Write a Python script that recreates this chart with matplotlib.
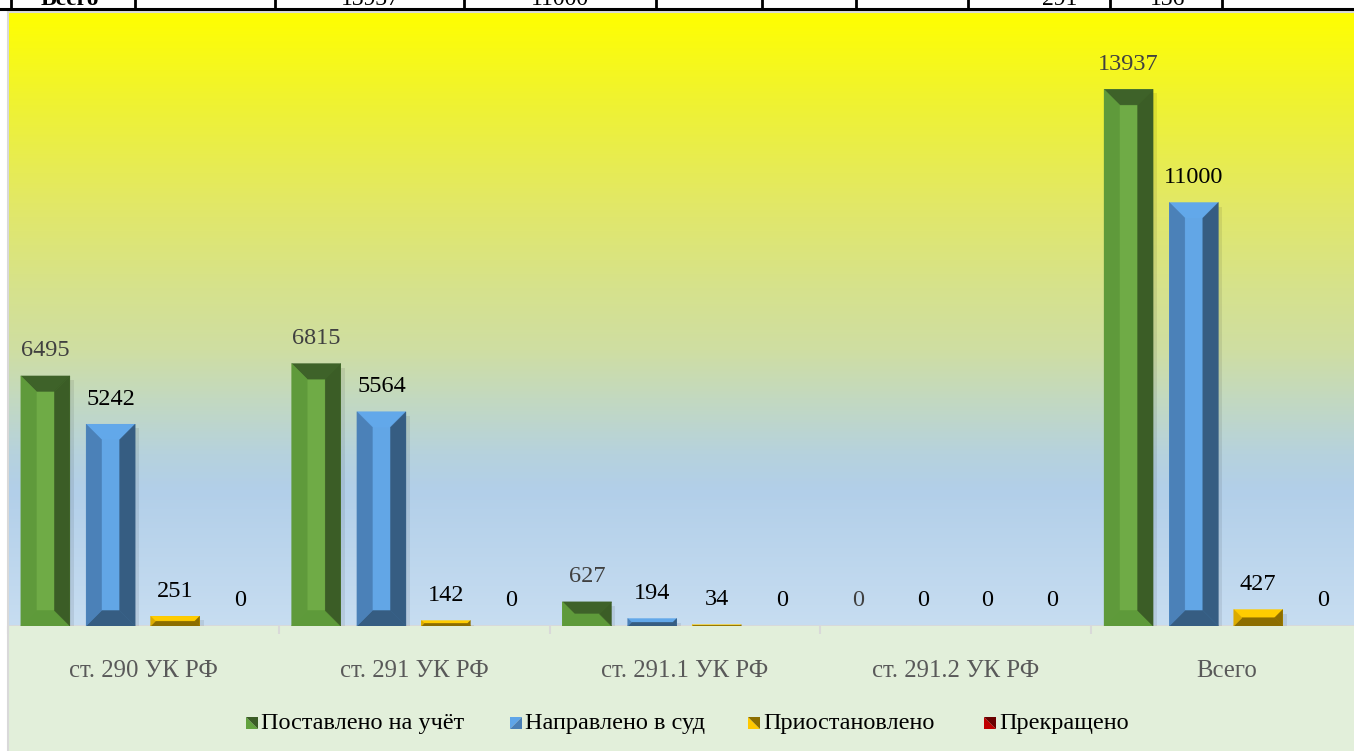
import numpy as np
import matplotlib
matplotlib.use('Agg')
import matplotlib.pyplot as plt
from matplotlib.patches import Polygon, Rectangle
from matplotlib.colors import LinearSegmentedColormap

# ---------------- data ----------------
categories = ['ст. 290 УК РФ', 'ст. 291 УК РФ', 'ст. 291.1 УК РФ', 'ст. 291.2 УК РФ', 'Всего']
series_names = ['Поставлено на учёт', 'Направлено в суд', 'Приостановлено', 'Прекращено']
registered = [6495, 6815, 627, 0, 13937]
to_court = [5242, 5564, 194, 0, 11000]
suspended = [251, 142, 34, 0, 427]
terminated = [0, 0, 0, 0, 0]
series_values = [registered, to_court, suspended, terminated]
y_max = 16000

# ---------------- styles ----------------
plt.rcParams['font.family'] = ['Liberation Serif', 'DejaVu Serif']
W, H = 1354, 751
fig = plt.figure(figsize=(W / 100, H / 100), dpi=100)
fig.patch.set_facecolor('white')

# faces: center, left, right, top, bottom
bevel_colors = [
    dict(center='#6fab46', left='#5f9a3b', right='#3b5d26', top='#3e6229', bottom='#5e9a3a',
         label='#404040', leg=('#62a23e', '#3b5d26')),
    dict(center='#62a6e6', left='#4b81b8', right='#365d82', top='#62a8ea', bottom='#365d82',
         label='#000000', leg=('#4a7fb5', '#5fa5e8')),
    dict(center='#f5c400', left='#dcab00', right='#8c6d00', top='#ffcc00', bottom='#8c6d00',
         label='#000000', leg=('#ffc800', '#8c6e00')),
    dict(center='#c00000', left='#a80000', right='#700000', top='#d01010', bottom='#700000',
         label='#000000', leg=('#c00000', '#6a0000')),
]

# ---------------- background (pixel axes) ----------------
bg = fig.add_axes([0, 0, 1, 1])
bg.set_xlim(0, W)
bg.set_ylim(H, 0)
bg.axis('off')

grad = LinearSegmentedColormap.from_list('g', [
    (0.00, '#ffff00'),
    (0.15, '#eff233'),
    (0.31, '#e2e866'),
    (0.45, '#d6e28c'),
    (0.55, '#cfdea2'),
    (0.63, '#c3d9c0'),
    (0.72, '#b6d2dd'),
    (0.78, '#b2cfe9'),
    (1.00, '#c7ddf1'),
])
bg.imshow(np.linspace(0, 1, 256).reshape(-1, 1), cmap=grad, aspect='auto',
          extent=(8, W, 626, 12), zorder=0)
bg.add_patch(Rectangle((8, 626), W - 8, H - 626, facecolor='#e2efda', edgecolor='none', zorder=0))
bg.plot([8, 8], [11, H], color='#d9d9d9', lw=1.5, zorder=1)
bg.plot([8, W], [11.5, 11.5], color='#d9d9d9', lw=1.5, zorder=1)

# table row remnant at top
bg.plot([0, W], [9, 9], color='black', lw=2.2, zorder=2)
for xv in [11, 135, 275, 464, 656, 762, 856, 968, 1110, 1222]:
    bg.plot([xv, xv], [0, 9], color='black', lw=2, zorder=2)
clip_rect = Rectangle((0, 0), W, 8, transform=bg.transData)
for tx, ts, fw in [(70, 'Всего', 'bold'), (370, '13937', 'normal'), (560, '11000', 'normal'),
                   (1060, '291', 'normal'), (1168, '136', 'normal')]:
    t = bg.text(tx, 5, ts, ha='center', va='baseline', fontsize=17, fontweight=fw, color='black', zorder=3)
    t.set_clip_path(clip_rect)

# ---------------- chart axes ----------------
ax = fig.add_axes([8 / W, 1 - 626 / H, (1362 - 8) / W, (626 - 10) / H])
ax.patch.set_alpha(0)
ax.set_xlim(-0.5, len(categories) - 0.5)
ax.set_ylim(0, y_max)
for s in ax.spines.values():
    s.set_visible(False)
ax.set_yticks([])
ax.set_xticks(np.arange(len(categories) + 1) - 0.5)
ax.set_xticklabels([])
ax.tick_params(axis='x', direction='out', length=6, width=1.5, color='#d9d9d9')
ax.axhline(0, color='#d9d9d9', lw=2, zorder=1)

x = np.arange(len(categories))
offsets = [-0.362, -0.121, 0.117, 0.357]
bar_w = 0.181

# scale factors (pixels per data unit)
p0 = ax.transData.transform((0, 0))
p1 = ax.transData.transform((1, 1000))
px_per_x = p1[0] - p0[0]
px_per_y = (p1[1] - p0[1]) / 1000.0
bevel_px = 15.5

for si, vals in enumerate(series_values):
    c = bevel_colors[si]
    xs = x + offsets[si]
    bars = ax.bar(xs, vals, width=bar_w, color=c['center'], edgecolor='none', zorder=3)
    for b, v in zip(bars, vals):
        x0 = b.get_x()
        x1 = x0 + b.get_width()
        h = b.get_height()
        if h <= 0:
            continue
        hpx = h * px_per_y
        d = min(bevel_px, hpx / 2.0)
        dx = d / px_per_x
        dy = d / px_per_y
        # soft shadow
        ax.add_patch(Rectangle((x1, 0), 4 / px_per_x, max(h - 4 / px_per_y, 0),
                               facecolor='#000000', alpha=0.08, edgecolor='none', zorder=2))
        faces = [
            ('top', [(x0, h), (x1, h), (x1 - dx, h - dy), (x0 + dx, h - dy)]),
            ('bottom', [(x0, 0), (x1, 0), (x1 - dx, dy), (x0 + dx, dy)]),
            ('left', [(x0, 0), (x0, h), (x0 + dx, h - dy), (x0 + dx, dy)]),
            ('right', [(x1, 0), (x1, h), (x1 - dx, h - dy), (x1 - dx, dy)]),
        ]
        for name, pts in faces:
            ax.add_patch(Polygon(pts, closed=True, facecolor=c[name], edgecolor=c[name],
                                 lw=0.3, zorder=4))
    for xi, v in zip(xs, vals):
        ax.annotate(f'{v}', (xi, v), xytext=(0, 18), textcoords='offset points',
                    ha='center', va='center', fontsize=17.5, color=c['label'], zorder=5)

# category labels
for i, cat in enumerate(categories):
    ax.text(i, -(671 - 626) / (626 - 10), cat, transform=ax.get_xaxis_transform(),
            ha='center', va='center', fontsize=17.8, color='#595959')

# ---------------- legend (pixel coords) ----------------
leg_x = [246, 510, 748, 984]
leg_y = 723
sq = 12
for si, name in enumerate(series_names):
    ca, cb = bevel_colors[si]['leg']
    lx = leg_x[si]
    top, bot = leg_y - sq / 2, leg_y + sq / 2
    if si == 1:
        t1 = [(lx, top), (lx + sq, top), (lx, bot)]
        t2 = [(lx + sq, top), (lx + sq, bot), (lx, bot)]
        bg.add_patch(Polygon(t1, closed=True, facecolor=cb, edgecolor='none', zorder=3))
        bg.add_patch(Polygon(t2, closed=True, facecolor=ca, edgecolor='none', zorder=3))
    else:
        t1 = [(lx, top), (lx + sq, bot), (lx, bot)]
        t2 = [(lx, top), (lx + sq, top), (lx + sq, bot)]
        bg.add_patch(Polygon(t1, closed=True, facecolor=ca, edgecolor='none', zorder=3))
        bg.add_patch(Polygon(t2, closed=True, facecolor=cb, edgecolor='none', zorder=3))
    bg.text(lx + sq + 3, leg_y, name, ha='left', va='center', fontsize=17.5, color='black', zorder=3)

fig.savefig('out.png', dpi=100)
